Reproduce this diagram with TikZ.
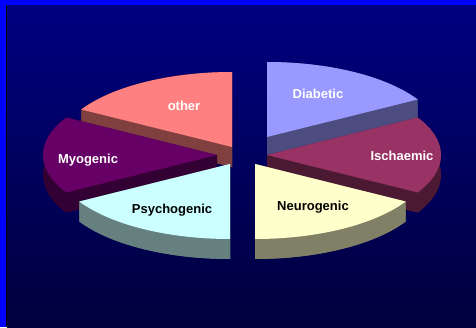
\documentclass[tikz,border=0pt]{standalone}
\usepackage{fontspec}
\setmainfont{Liberation Sans}
\definecolor{frameblue}{RGB}{0,0,255}
\definecolor{bgtop}{RGB}{0,0,128}
\definecolor{bgbottom}{RGB}{0,0,60}
\definecolor{diabtop}{RGB}{153,153,255}
\definecolor{diabside}{RGB}{76,76,128}
\definecolor{ischtop}{RGB}{153,51,102}
\definecolor{ischside}{RGB}{76,25,51}
\definecolor{neurtop}{RGB}{255,255,204}
\definecolor{neurside}{RGB}{128,128,102}
\definecolor{psytop}{RGB}{204,255,255}
\definecolor{psyside}{RGB}{102,128,128}
\definecolor{myotop}{RGB}{102,0,102}
\definecolor{myoside}{RGB}{51,0,51}
\definecolor{othtop}{RGB}{255,128,128}
\definecolor{othside}{RGB}{128,64,64}
% ellipse radii and thickness of the pie
\def\rx{174}\def\ry{75}\def\dep{20}
% #1,#2 centre, #3,#4 start/end angle, #5 top colour, #6 side colour
\newcommand\pieslice[6]{%
  \pgfmathsetmacro\xa{#1+\rx*cos(#3)}\pgfmathsetmacro\ya{#2+\ry*sin(#3)}%
  \pgfmathsetmacro\xb{#1+\rx*cos(#4)}\pgfmathsetmacro\yb{#2+\ry*sin(#4)}%
  \pgfmathsetmacro\cyb{#2-\dep}\pgfmathsetmacro\yab{\ya-\dep}\pgfmathsetmacro\ybb{\yb-\dep}%
  \fill[#6] (#1,\cyb) -- (\xa,\yab) arc[start angle=#3,end angle=#4,x radius=\rx pt,y radius=\ry pt] -- cycle;
  \fill[#6] (#1,#2) -- (\xa,\ya) -- (\xa,\yab) -- (#1,\cyb) -- cycle;
  \fill[#6] (#1,#2) -- (\xb,\yb) -- (\xb,\ybb) -- (#1,\cyb) -- cycle;
  \fill[#6] (\xa,\ya) arc[start angle=#3,end angle=#4,x radius=\rx pt,y radius=\ry pt]
    -- (\xb,\ybb) arc[start angle=#4,end angle=#3,x radius=\rx pt,y radius=\ry pt] -- cycle;
  \fill[#5] (#1,#2) -- (\xa,\ya) arc[start angle=#3,end angle=#4,x radius=\rx pt,y radius=\ry pt] -- cycle;
}
\tikzset{
  lbl/.style={anchor=base,font=\fontsize{13}{15}\selectfont\bfseries,inner sep=0pt},
  lblw/.style={lbl,text=white},
  lblk/.style={lbl,text=black}
}
\begin{document}
\begin{tikzpicture}[x=1pt,y=1pt]
\useasboundingbox (0,0) rectangle (476,327);
% frame and background
\fill[frameblue] (0,0) rectangle (476,327);
\fill[black] (6,0) rectangle (476,322);
\shade[top color=bgtop,bottom color=bgbottom] (7,0) rectangle (476,321);
% slices, back to front
\pieslice{267}{190}{30}{90}{diabtop}{diabside}
\pieslice{232}{180}{90}{150}{othtop}{othside}
\pieslice{267}{172}{-30}{30}{ischtop}{ischside}
\pieslice{217}{172}{150}{210}{myotop}{myoside}
\pieslice{255}{163}{-90}{-30}{neurtop}{neurside}
\pieslice{230}{163}{210}{270}{psytop}{psyside}
% labels
\node[lblw] (diab) at (318,228.3) {Diabetic};
\node[lblw] (oth) at (184,216.3) {other};
\node[lblw] (myo) at (88,163.7) {Myogenic};
\node[lblw] (isch) at (402,166.3) {Ischaemic};
\node[lblk] (psy) at (172,113.7) {Psychogenic};
\node[lblk] (neur) at (313,116.3) {Neurogenic};
\end{tikzpicture}
\end{document}
